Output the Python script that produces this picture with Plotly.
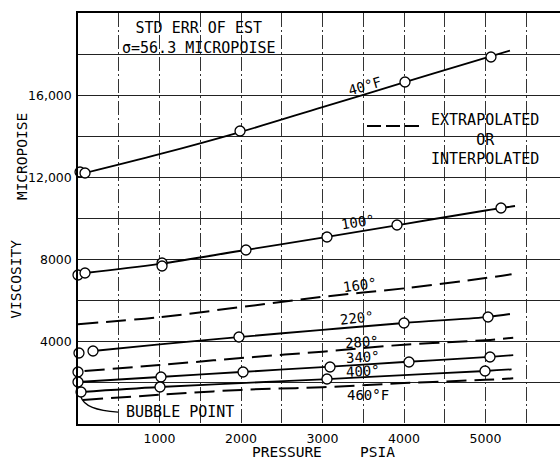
import plotly.graph_objects as go

# ---------------- data (pressure psia, viscosity micropoise) ----------------
# 40°F
p40_line = [86, 1000, 2000, 3000, 4000, 5000, 5300]
v40_line = [12214, 13130, 14220, 15420, 16620, 17820, 18170]
p40_pts = [25, 86, 1988, 4012, 5067]
v40_pts = [12262, 12214, 14257, 16642, 17858]
# 100°F
p100_line = [86, 1000, 2000, 3000, 4000, 5000, 5362]
v100_line = [7348, 7790, 8430, 9070, 9730, 10390, 10608]
p100_pts = [0, 86, 1031, 1031, 2061, 3055, 3914, 5190]
v100_pts = [7250, 7348, 7834, 7688, 8467, 9099, 9683, 10511]
# 160°F (extrapolated / interpolated)
p160_line = [0, 1000, 2000, 3000, 4000, 5000, 5320]
v160_line = [4860, 5200, 5690, 6190, 6600, 7100, 7290]
# 220°F
p220_line = [184, 1000, 2000, 3000, 4000, 5000, 5300]
v220_line = [3552, 3870, 4240, 4580, 4915, 5200, 5353]
p220_pts = [12, 184, 1975, 4000, 5031]
v220_pts = [3455, 3552, 4233, 4915, 5207]
# 280°F (extrapolated / interpolated)
p280_line = [80, 1000, 2000, 3000, 4000, 5000, 5340]
v280_line = [2580, 2870, 3210, 3520, 3860, 4080, 4200]
p280_pts = [0]
v280_pts = [2530]
# 340°F
p340_line = [0, 1000, 2000, 3000, 4000, 5000, 5340]
v340_line = [2044, 2287, 2530, 2770, 3017, 3250, 3356]
p340_pts = [0, 1018, 2025, 3092, 4061, 5055]
v340_pts = [2044, 2287, 2530, 2774, 3017, 3260]
# 400°F
p400_line = [37, 1000, 2000, 3000, 4000, 5000, 5320]
v400_line = [1557, 1800, 1990, 2175, 2380, 2579, 2660]
p400_pts = [37, 1006, 3055, 4994]
v400_pts = [1557, 1800, 2190, 2579]
# 460°F (extrapolated / interpolated)
p460_line = [60, 1000, 2000, 3000, 4000, 5000, 5340]
v460_line = [1170, 1420, 1660, 1790, 1990, 2150, 2221]

# temperature labels (text, pressure, viscosity, angle)
lbl_text = ["40°F", "100°", "160°", "220°", "280°", "340°", "400°", "460°F"]
lbl_p = [3521, 3436, 3460, 3423, 3485, 3497, 3497, 3558]
lbl_v = [16440, 9825, 6760, 5155, 3988, 3259, 2578, 1410]
lbl_ang = [-16, -9, -8, -6, -4, -3, -3, 0]

# axis ticks
x_tickvals = [0, 500, 1000, 1500, 2000, 2500, 3000, 3500, 4000, 4500, 5000, 5500]
x_ticktext = ["", "", "1000", "", "2000", "", "3000", "", "4000", "", "5000", ""]
y_tickvals = [0, 2000, 4000, 6000, 8000, 10000, 12000, 14000, 16000, 18000, 20000]
y_ticktext = ["", "", "4000", "", "8000", "", "12,000", "", "16,000", "", ""]

# ---------------- figure ----------------
FONT = "DejaVu Sans"
LETTER = "DejaVu Sans Mono"
fig = go.Figure()

solid = dict(color="black", width=1.8)
dashed = dict(color="black", width=2, dash="20px,8px")

lines = [
    (p40_line, v40_line, solid),
    (p100_line, v100_line, solid),
    (p160_line, v160_line, dashed),
    (p220_line, v220_line, solid),
    (p280_line, v280_line, dashed),
    (p340_line, v340_line, solid),
    (p400_line, v400_line, solid),
    (p460_line, v460_line, dashed),
]
for px, vy, st in lines:
    fig.add_trace(go.Scatter(x=px, y=vy, mode="lines", line=st,
                             line_shape="spline", showlegend=False,
                             hoverinfo="skip"))

pts = [(p40_pts, v40_pts), (p100_pts, v100_pts), (p220_pts, v220_pts),
       (p280_pts, v280_pts), (p340_pts, v340_pts), (p400_pts, v400_pts)]
for px, vy in pts:
    fig.add_trace(go.Scatter(x=px, y=vy, mode="markers",
                             marker=dict(symbol="circle", size=10, color="white",
                                         line=dict(color="black", width=1.3)),
                             showlegend=False, cliponaxis=False))

for t, px, vy, a in zip(lbl_text, lbl_p, lbl_v, lbl_ang):
    fig.add_annotation(x=px, y=vy, text=t, showarrow=False, textangle=a,
                       xanchor="center", yanchor="middle",
                       font=dict(family=LETTER, size=14, color="black"))


def note(x, y, text, size=15, angle=0):
    fig.add_annotation(xref="paper", yref="paper", x=x, y=y, text=text,
                       showarrow=False, align="center", textangle=angle,
                       xanchor="center", yanchor="middle",
                       font=dict(family=LETTER, size=size, color="black"))


# legend-like key
fig.add_shape(type="line", xref="paper", yref="paper", x0=0.5996, x1=0.7095,
              y0=0.725, y1=0.725, line=dict(color="black", width=2, dash="14px,5px"))
note(0.845, 0.691, "EXTRAPOLATED<br>OR<br>INTERPOLATED", size=15)

# std err note
note(0.25, 0.939, "STD ERR OF EST<br>σ=56.3 MICROPOISE", size=15)

# bubble point
note(0.212, 0.029, "BUBBLE POINT", size=15)
fig.add_shape(type="path", xref="paper", yref="paper",
              path="M 0.0062,0.0657 Q 0.0145,0.034 0.083,0.029",
              line=dict(color="black", width=1.3))

# axis titles
note(0.4336, -0.068, "PRESSURE", size=14.5)
note(0.622, -0.068, "PSIA", size=14.5)
note(-0.116, 0.6496, "MICROPOISE", size=14.5, angle=-90)
note(-0.128, 0.352, "VISCOSITY", size=14.5, angle=-90)

fig.update_xaxes(range=[0, 5914], tickvals=x_tickvals, ticktext=x_ticktext,
                 showgrid=True, gridcolor="#333", gridwidth=1,
                 griddash="14px,3px,2px,3px",
                 showline=True, linecolor="black", linewidth=1.5, mirror=True,
                 zeroline=False, ticks="", ticklabelstandoff=2,
                 tickfont=dict(family=FONT, size=12.5, color="black"))
fig.update_yaxes(range=[0, 20000], tickvals=y_tickvals, ticktext=y_ticktext,
                 showgrid=True, gridcolor="#222", gridwidth=1,
                 showline=True, linecolor="black", linewidth=1.5, mirror=False,
                 zeroline=False, ticks="", ticklabelstandoff=2,
                 tickfont=dict(family=FONT, size=12.5, color="black"))

fig.update_layout(width=560, height=460, margin=dict(l=78, r=0, t=13, b=36),
                  paper_bgcolor="white", plot_bgcolor="white", showlegend=False)

# remove the default 8px page margin so the figure fills the 560x460 window
fig.write_html("out.html",
               config={"displayModeBar": False},
               post_script="document.body.style.margin='0';"
                           "document.documentElement.style.overflow='hidden';"
                           "document.body.style.overflow='hidden';")
